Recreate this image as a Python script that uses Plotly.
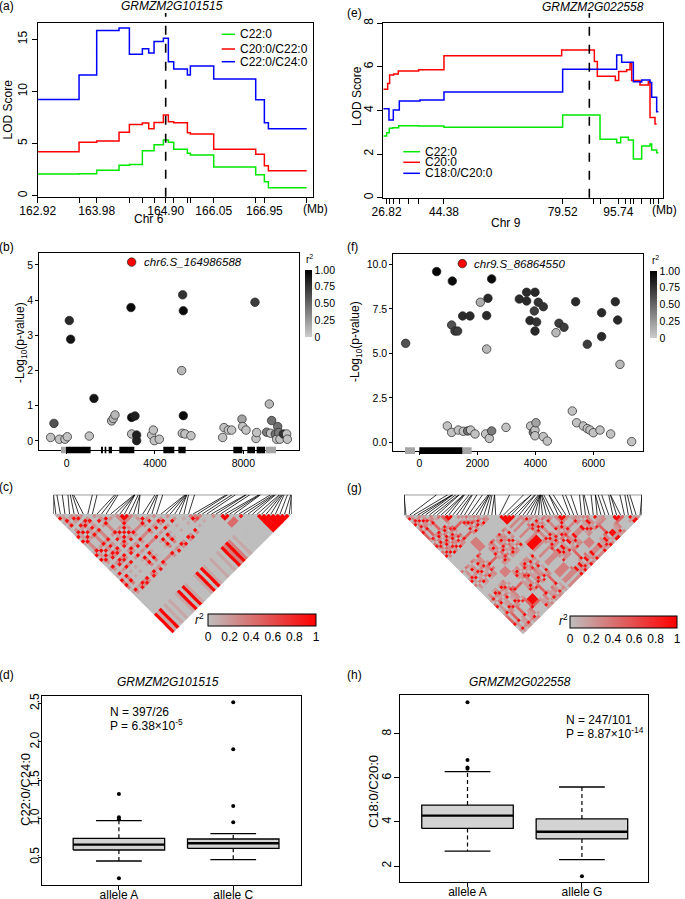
import plotly.graph_objects as go

W, H = 685, 899
FONT = "Liberation Sans, Arial, Helvetica, sans-serif"


def fx(x):
    return x / W


def fy(y):
    return 1 - y / H


# ======================= DATA =======================
# (a) Chr 6 QTL scan (marker map position, relative units 0-100)
a_pos = [0, 15.37, 21.93, 30.24, 34.08, 38.91, 41.26, 43.25, 46.72, 48.57,
         50.56, 55.64, 56.75, 65.43, 81.04, 84.26, 85.75, 100]
a_lod_c22 = [2.08, 2.11, 2.43, 2.91, 3.0, 4.32, 4.32, 4.89, 5.34, 5.12,
             4.45, 4.06, 3.9, 2.75, 2.01, 1.34, 0.77]
a_lod_c20_c22 = [4.22, 5.12, 5.24, 6.08, 6.84, 6.97, 6.43, 7.03, 7.74, 7.1,
                 7.0, 6.04, 5.92, 4.45, 3.97, 2.88, 2.4]
a_lod_c22_c24 = [9.24, 11.58, 15.86, 16.08, 13.56, 14.1, 13.7, 14.8, 15.1, 12.85,
                 12.15, 11.58, 12.44, 11.19, 9.2, 7.0, 6.43]
a_tickvals = [0, 21.93, 47.58, 65.43, 84.26]
a_ticktext = ["162.92", "163.98", "164.90", "166.05", "166.95"]
a_minor = [15.37, 34.08, 38.91, 43.25, 50.56, 55.64, 56.75, 81.04, 100]
a_gene_pos = 47.58
a_series = ["C22:0", "C20:0/C22:0", "C22:0/C24:0"]

# (e) Chr 9 QTL scan
e_pos_c22 = [0, 1.21, 2.18, 3.39, 5.58, 12.85, 22.06, 65.21, 78.79, 84.85,
             86.30, 89.09, 90.91, 93.94, 96.97, 97.58, 99.39, 100]
e_lod_c22 = [2.83, 2.98, 3.18, 3.21, 3.30, 3.29, 3.23, 3.79, 2.68, 2.52,
             2.77, 2.65, 1.77, 2.37, 2.46, 2.19, 2.06]
e_pos_c20 = [0, 1.58, 2.30, 3.76, 5.45, 12.85, 22.06, 64.85, 76.73, 77.82,
             84.36, 85.58, 88.48, 89.70, 90.30, 93.33, 96.36, 96.97, 98.79, 99.39]
e_lod_c20 = [4.97, 5.24, 5.63, 5.67, 5.81, 5.87, 6.51, 6.77, 6.24, 5.57,
             5.37, 5.78, 5.87, 6.16, 5.37, 5.17, 5.32, 3.68, 3.38]
e_pos_ratio = [0, 2.06, 3.64, 5.82, 13.33, 22.06, 65.21, 84.85, 86.67, 90.91,
               93.33, 93.94, 96.97, 97.58, 99.39, 100]
e_lod_ratio = [4.08, 3.56, 4.02, 4.43, 4.48, 4.85, 5.89, 6.54, 6.21, 5.32,
               5.31, 5.40, 5.28, 4.6, 3.94]
e_tickvals = [1.21, 22.06, 65.21, 85.45]
e_ticktext = ["26.82", "44.38", "79.52", "95.74"]
e_minor = [2.42, 3.88, 5.82, 9.09, 12.97, 76.36, 79.03, 87.88, 89.70, 90.91,
           93.94, 96.97, 98.18, 100]
e_gene_pos = 74.91
e_series = ["C22:0", "C20:0", "C18:0/C20:0"]

# (b) association around GRMZM2G101515
b_pos = [-725, -574, -332, -75, 30, 121, 181, 1026, 1238, 2038, 2113, 2189, 2913,
         2943, 2943, 3094, 3170, 3170, 3849, 3925, 3970, 4196, 5208, 5238, 5253,
         5283, 5283, 5358, 5630, 7064, 7125, 7321, 7472, 7940, 7970, 8121, 8528,
         8574, 8604, 9057, 9177, 9238, 9283, 9449, 9509, 9555, 9600, 9660, 9811,
         9962, 9992]
b_logp = [0.10, 0.50, 0.05, 0.05, 0.12, 3.42, 2.89, 0.14, 1.21, 0.57, 0.64, 0.74, 3.79,
          0.20, 0.67, 0.71, 0.17, 0.01, 0.17, 0.31, 0.01, 0.05, 2.00, 0.22, 4.15,
          3.70, 0.72, 0.20, 0.15, 0.10, 0.38, 0.31, 0.31, 0.62, 0.41, 0.31, 3.94,
          0.07, 0.24, 0.25, 1.05, 0.22, 0.58, 0.20, 0.05, 0.41, 0.24, 0.05, 0.20,
          0.20, 0.05]
b_r2 = [0.05, 0.6, 0.05, 0.05, 0.05, 0.8, 0.9, 0.05, 0.9, 0.1, 0.1, 0.1, 0.95,
        0.08, 0.95, 0.85, 0.85, 0.85, 0.05, 0.05, 0.05, 0.05, 0.1, 0.05, 0.75,
        0.95, 0.95, 0.05, 0.05, 0.05, 0.05, 0.05, 0.05, 0.2, 0.05, 0.05, 0.7,
        0.05, 0.05, 0.4, 0.1, 0.05, 0.45, 0.45, 0.05, 0.45, 0.4, 0.05, 0.75,
        0.05, 0.05]
b_lead = {"name": "chr6.S_164986588", "pos": 2943, "logp": 5.08}
b_utr = [(-257, -30), (9011, 9479)]
b_exon = [(-30, 1087), (1555, 1645), (1721, 1796), (1902, 2053), (2385, 3064),
          (4377, 4875), (5057, 5389), (7547, 7955), (8181, 8528), (8604, 8981)]

# (f) association around GRMZM2G022558
f_pos = [-471, 598, 966, 1115, 1115, 1138, 1230, 1322, 1345, 1494, 1517, 1667, 1747,
         1770, 1920, 2103, 2287, 2322, 2322, 2368, 2414, 2494, 2494, 2989, 3448,
         3701, 3701, 3816, 3839, 3931, 3966, 3989, 3989, 3989, 3989, 4023, 4046,
         4103, 4276, 4276, 4414, 4713, 4816, 4989, 5276, 5391, 5425, 5655, 5793,
         5793, 5885, 6000, 6230, 6287, 6287, 6598, 6759, 6839, 6920, 7322]
f_logp = [5.56, 9.59, 0.92, 6.59, 0.56, 9.06, 6.25, 6.25, 0.69, 7.10, 0.62, 0.64, 7.10,
          0.69, 0.47, 7.87, 0.47, 7.12, 5.24, 8.09, 0.22, 9.18, 0.64, 0.84, 8.05,
          8.43, 7.94, 6.84, 0.92, 0.56, 7.38, 8.43, 6.25, 0.69, 0.37, 1.10, 6.76,
          7.87, 7.62, 0.32, 0.07, 6.16, 6.69, 6.46, 1.76, 7.90, 1.10, 0.92, 5.51,
          0.77, 0.69, 0.54, 0.69, 7.28, 5.94, 0.47, 7.90, 6.87, 4.38, 0.04]
f_r2 = [0.6, 0.98, 0.05, 0.6, 0.05, 0.95, 0.7, 0.7, 0.05, 0.8, 0.05, 0.45, 0.8,
        0.05, 0.05, 0.15, 0.05, 0.8, 0.1, 0.8, 0.05, 0.95, 0.4, 0.05, 0.8,
        0.8, 0.8, 0.8, 0.05, 0.4, 0.7, 0.8, 0.8, 0.05, 0.05, 0.2, 0.75,
        0.75, 0.75, 0.05, 0.05, 0.1, 0.7, 0.7, 0.05, 0.8, 0.05, 0.05, 0.7,
        0.05, 0.05, 0.05, 0.05, 0.8, 0.8, 0.05, 0.8, 0.8, 0.1, 0.05]
f_lead = {"name": "chr9.S_86864550", "pos": 1483, "logp": 10.04}
f_utr = [(-494, -149), (1483, 1805)]
f_exon = [(0, 1483)]

# (c)/(g) LD structure: haplotype group of each SNP (sorted by position)
ld_c_groups = list("AEAFEFE.FEAFAEDDDEAFAEF.EF.E.AGAG.EFBBB.CC..AAAAAAAA")
ld_c_within = {"A": 1.0, "B": 1.0, "C": 0.85, "D": 1.0, "E": 0.95, "F": 0.9, "G": 0.65}
ld_c_between = {"EF": 0.25, "AG": 0.35, "BC": 0.45, "DE": 0.3, "AE": 0.12}
ld_g_groups = list("RSRTSRTSURVVVSTURSTUSRT.PPPPPUQTQSRQUTQPPPQTSQURQQTSUVVVRQQSQ")
ld_g_within = {"R": 0.95, "S": 0.9, "T": 1.0, "U": 0.8, "P": 1.0, "Q": 0.95, "V": 1.0}
ld_g_between = {"ST": 0.3, "RU": 0.4, "PQ": 0.3, "RS": 0.2, "TU": 0.25, "QS": 0.2,
                "RV": 0.5, "PV": 0.35, "QT": 0.15, "QU": 0.3}
ld_ticks = [0, 0.2, 0.4, 0.6, 0.8, 1]
ld_ticktext = ["0", "0.2", "0.4", "0.6", "0.8", "1"]

# (d)/(h) box plots
d_cats = ["allele A", "allele C"]
d_q1 = [0.595, 0.617]
d_med = [0.665, 0.682]
d_q3 = [0.747, 0.738]
d_lo = [0.452, 0.47]
d_hi = [0.977, 0.808]
d_out = [[1.324, 1.02, 0.994, 0.227], [2.515, 1.904, 1.168, 0.955]]
d_note = ["N = 397/26", "P = 6.38×10<sup>-5</sup>"]

h_cats = ["allele A", "allele G"]
h_q1 = [3.71, 3.23]
h_med = [4.29, 3.56]
h_q3 = [4.77, 4.14]
h_lo = [2.68, 2.29]
h_hi = [6.29, 5.59]
h_out = [[9.44, 6.82, 6.48, 6.42], [1.53]]
h_note = ["N = 247/101", "P = 8.87×10<sup>-14</sup>"]

# ======================= FIGURE =======================
fig = go.Figure()
shapes = []
annotations = []


def ann(x, y, text, size=12, angle=0, xanchor="center", yanchor="middle", **kw):
    d = dict(x=fx(x), y=fy(y), xref="paper", yref="paper", text=text, showarrow=False,
             font=dict(family=FONT, size=size, color="black"), textangle=angle,
             xanchor=xanchor, yanchor=yanchor)
    d.update(kw)
    annotations.append(d)


def step(x, vals, color, xa, ya):
    fig.add_trace(go.Scatter(x=x, y=list(vals) + [vals[-1]], mode="lines",
                             line=dict(color=color, width=1.5, shape="hv"),
                             xaxis=xa, yaxis=ya, showlegend=False, hoverinfo="skip"))


GREEN, RED, BLUE = "#00e800", "#ff0000", "#0000ff"

# ---- (a)
step(a_pos, a_lod_c22, GREEN, "x", "y")
step(a_pos, a_lod_c20_c22, RED, "x", "y")
step(a_pos, a_lod_c22_c24, BLUE, "x", "y")
shapes.append(dict(type="line", xref="x", yref="paper", x0=a_gene_pos, x1=a_gene_pos,
                   y0=fy(196.7), y1=fy(13), line=dict(color="black", width=1.6, dash="dash")))
for k, (nm, col) in enumerate(zip(a_series, [GREEN, RED, BLUE])):
    yy = [34.3, 49, 61.7][k]
    shapes.append(dict(type="line", xref="paper", yref="paper", x0=fx(221.7), x1=fx(235),
                       y0=fy(yy), y1=fy(yy), line=dict(color=col, width=1.5)))
    ann(238.3, yy, nm, xanchor="left")
ann(6, 6, "(a)")
ann(172, 6, "<i>GRMZM2G101515</i>")
ann(7.5, 110, "LOD Score", angle=-90)
ann(149, 219, "Chr 6")
ann(315, 209, "(Mb)")

# ---- (e)
step(e_pos_c22, e_lod_c22, GREEN, "x2", "y2")
step(e_pos_c20, e_lod_c20, RED, "x2", "y2")
step(e_pos_ratio, e_lod_ratio, BLUE, "x2", "y2")
shapes.append(dict(type="line", xref="x2", yref="paper", x0=e_gene_pos, x1=e_gene_pos,
                   y0=fy(197.7), y1=fy(13), line=dict(color="black", width=1.6, dash="dash")))
for k, (nm, col) in enumerate(zip(e_series, [GREEN, RED, BLUE])):
    yy = [151.7, 162.3, 173.3][k]
    shapes.append(dict(type="line", xref="paper", yref="paper", x0=fx(403.3), x1=fx(420),
                       y0=fy(yy), y1=fy(yy), line=dict(color=col, width=1.5)))
    ann(423.3, yy, nm, xanchor="left")
ann(354, 13, "(e)")
ann(593, 7, "<i>GRMZM2G022558</i>")
ann(357, 96, "LOD Score", angle=-90)
ann(506, 223, "Chr 9")
ann(664, 210, "(Mb)")


# ---- (b) / (f) association plots
def assoc(pos, logp, r2, lead, utr, exon, xa, ya, cax, ytop, ybot):
    fig.add_trace(go.Scatter(x=pos, y=logp, mode="markers", xaxis=xa, yaxis=ya,
                             marker=dict(color=r2, coloraxis=cax, size=8.5,
                                         line=dict(color="#222222", width=0.7)),
                             showlegend=False, hoverinfo="skip"))
    fig.add_trace(go.Scatter(x=[lead["pos"]], y=[lead["logp"]], mode="markers",
                             xaxis=xa, yaxis=ya,
                             marker=dict(color="#ff0000", size=8.5,
                                         line=dict(color="#222222", width=0.7)),
                             showlegend=False, hoverinfo="skip"))
    annotations.append(dict(x=lead["pos"], y=lead["logp"], xref=xa, yref=ya,
                            text="<i>" + lead["name"] + "</i>", showarrow=False,
                            xanchor="left", yanchor="middle", xshift=10,
                            font=dict(family=FONT, size=11.5, color="black")))
    for (s, e) in utr:
        shapes.append(dict(type="rect", xref=xa, yref="paper", x0=s, x1=e,
                           y0=fy(ybot), y1=fy(ytop), fillcolor="#a6a6a6",
                           line=dict(width=0), layer="above"))
    for (s, e) in exon:
        shapes.append(dict(type="rect", xref=xa, yref="paper", x0=s, x1=e,
                           y0=fy(ybot), y1=fy(ytop), fillcolor="#000000",
                           line=dict(width=0), layer="above"))


assoc(b_pos, b_logp, b_r2, b_lead, b_utr, b_exon, "x3", "y3", "coloraxis", 446.7, 453.3)
assoc(f_pos, f_logp, f_r2, f_lead, f_utr, f_exon, "x4", "y4", "coloraxis2", 447.3, 454)
ann(6, 247, "(b)")
ann(353, 247, "(f)")
ann(21, 343, "-Log<sub>10</sub>(p-value)", angle=-90)
ann(356, 342, "-Log<sub>10</sub>(p-value)", angle=-90)
ann(309, 259, "r<sup>2</sup>", size=10)
ann(655, 260, "r<sup>2</sup>", size=10)


# ---- (c) / (g) LD heatmaps
def ld_panel(groups, within, between, snp_pos, xa, ya, cax, unit_px, box_h):
    n = len(groups)
    fig.add_trace(go.Scatter(x=[0, n, n / 2, 0], y=[0, 0, -n / 2, 0], mode="lines",
                             fill="toself", fillcolor="#bebebe", line=dict(width=0),
                             xaxis=xa, yaxis=ya, showlegend=False, hoverinfo="skip"))
    cx, cy, cv = [], [], []
    for i in range(n):
        for j in range(i + 1, n):
            gi, gj = groups[i], groups[j]
            if gi == "." or gj == ".":
                v = 0.0
            elif gi == gj:
                v = within[gi]
            else:
                v = between.get(gi + gj, between.get(gj + gi, 0.0))
            cx.append((i + j) / 2 + 0.5)
            cy.append(-(j - i) / 2)
            cv.append(v)
    fig.add_trace(go.Scatter(x=cx, y=cy, mode="markers", xaxis=xa, yaxis=ya,
                             marker=dict(symbol="diamond", size=(unit_px + 0.5) / 1.3,
                                         color=cv, coloraxis=cax, line=dict(width=0)),
                             showlegend=False, hoverinfo="skip"))
    sp = sorted(snp_pos)
    pmin, pmax = sp[0], sp[-1]
    lx, ly = [], []
    for k, p in enumerate(sp):
        lx += [(p - pmin) / (pmax - pmin) * n, k + 0.5, None]
        ly += [box_h, 0, None]
    fig.add_trace(go.Scatter(x=lx, y=ly, mode="lines", line=dict(color="black", width=0.8),
                             xaxis=xa, yaxis=ya, showlegend=False, hoverinfo="skip"))
    shapes.append(dict(type="path", xref=xa, yref=ya,
                       path=f"M 0,0 L 0,{box_h} L {n},{box_h} L {n},0",
                       line=dict(color="black", width=1)))


NC = len(ld_c_groups)
NG = len(ld_g_groups)
c_left, c_right, c_base, c_top, c_bot = 53.5, 291.5, 514.0, 494.7, 640.0
g_left, g_right, g_base, g_top, g_bot = 404.0, 642.0, 515.0, 494.7, 641.0
uc = (c_right - c_left) / NC
ug = (g_right - g_left) / NG
ld_panel(ld_c_groups, ld_c_within, ld_c_between, b_pos + [b_lead["pos"]], "x5", "y5",
         "coloraxis3", uc, (c_base - c_top) / uc)
ld_panel(ld_g_groups, ld_g_within, ld_g_between, f_pos + [f_lead["pos"]], "x6", "y6",
         "coloraxis4", ug, (g_base - g_top) / ug)
ann(6, 487, "(c)")
ann(354, 488, "(g)")
ann(200, 619, "<i>r</i><sup>2</sup>", size=12)
ann(563, 620, "<i>r</i><sup>2</sup>", size=12)


# ---- (d) / (h) box plots
def boxes(q1, med, q3, lo, hi, outs, xa, ya):
    for k in range(len(q1)):
        c = k + 1
        fig.add_trace(go.Scatter(x=[c - 0.4, c + 0.4, c + 0.4, c - 0.4, c - 0.4],
                                 y=[q1[k], q1[k], q3[k], q3[k], q1[k]], mode="lines",
                                 fill="toself", fillcolor="#d3d3d3",
                                 line=dict(color="black", width=1.3),
                                 xaxis=xa, yaxis=ya, showlegend=False, hoverinfo="skip"))
        fig.add_trace(go.Scatter(x=[c - 0.4, c + 0.4], y=[med[k], med[k]], mode="lines",
                                 line=dict(color="black", width=2.4),
                                 xaxis=xa, yaxis=ya, showlegend=False, hoverinfo="skip"))
        fig.add_trace(go.Scatter(x=[c, c, None, c, c], y=[q3[k], hi[k], None, q1[k], lo[k]],
                                 mode="lines", line=dict(color="black", width=1.2, dash="4px,3px"),
                                 xaxis=xa, yaxis=ya, showlegend=False, hoverinfo="skip"))
        fig.add_trace(go.Scatter(x=[c - 0.2, c + 0.2, None, c - 0.2, c + 0.2],
                                 y=[hi[k], hi[k], None, lo[k], lo[k]], mode="lines",
                                 line=dict(color="black", width=1.3),
                                 xaxis=xa, yaxis=ya, showlegend=False, hoverinfo="skip"))
        fig.add_trace(go.Scatter(x=[c] * len(outs[k]), y=outs[k], mode="markers",
                                 marker=dict(color="black", size=4),
                                 xaxis=xa, yaxis=ya, showlegend=False, hoverinfo="skip"))


boxes(d_q1, d_med, d_q3, d_lo, d_hi, d_out, "x7", "y7")
boxes(h_q1, h_med, h_q3, h_lo, h_hi, h_out, "x8", "y8")
ann(6, 675, "(d)")
ann(354, 675, "(h)")
ann(168, 682, "<i>GRMZM2G101515</i>")
ann(520, 682, "<i>GRMZM2G022558</i>")
ann(25, 789, "C22:0/C24:0", size=13, angle=-90)
ann(373, 792, "C18:0/C20:0", size=13, angle=-90)
ann(108, 712, d_note[0], xanchor="left")
ann(108, 725, d_note[1], xanchor="left")
ann(564, 720, h_note[0], xanchor="left")
ann(564, 733, h_note[1], xanchor="left")


# ======================= AXES =======================
def axis(dom, rng, anchor, size=12, ticklen=5, minorvals=None, **kw):
    d = dict(domain=dom, range=rng, anchor=anchor, showline=True, mirror=True,
             linecolor="black", linewidth=1, ticks="outside", ticklen=ticklen, tickwidth=1,
             tickcolor="black", showgrid=False, zeroline=False, fixedrange=True,
             automargin=False, tickmode="array",
             tickfont=dict(family=FONT, size=size, color="black"))
    if minorvals is not None:
        d["minor"] = dict(tickmode="array", tickvals=minorvals, ticks="outside",
                          ticklen=ticklen, tickwidth=1, tickcolor="black", showgrid=False)
    d.update(kw)
    return d


def hidden(dom, rng, anchor):
    return dict(domain=dom, range=rng, anchor=anchor, visible=False, fixedrange=True,
                showgrid=False, zeroline=False, automargin=False)


gray_scale = [[0, "#cccccc"], [1, "#000000"]]
ld_scale = [[0, "#bebebe"], [1, "#ff0000"]]


def vbar(x, ytop):
    return dict(x=fx(x), xanchor="left", y=fy(ytop), yanchor="top", len=67,
                lenmode="pixels", thickness=7, thicknessmode="pixels", outlinewidth=0,
                tickvals=[0, 0.25, 0.5, 0.75, 1], ticktext=["0", "0.25", "0.50", "0.75", "1.00"],
                ticks="", xpad=0, ypad=0,
                tickfont=dict(family=FONT, size=10.5, color="black"))


def hbar(x, ytop, ln):
    return dict(orientation="h", x=fx(x), xanchor="left", y=fy(ytop), yanchor="top",
                len=ln, lenmode="pixels", thickness=12, thicknessmode="pixels",
                outlinewidth=1, outlinecolor="black", tickvals=ld_ticks, ticktext=ld_ticktext,
                ticks="", xpad=0, ypad=0,
                tickfont=dict(family=FONT, size=12, color="black"))


fig.update_layout(
    template="none",
    width=W, height=H, margin=dict(l=0, r=0, t=0, b=0, pad=0), autosize=False,
    paper_bgcolor="white", plot_bgcolor="white", showlegend=False,
    font=dict(family=FONT, size=12, color="black"),
    xaxis=axis([fx(37.7), fx(313.3)], [0, 102.45], "y", tickvals=a_tickvals,
               ticktext=a_ticktext, minorvals=a_minor, ticklabelstandoff=-2),
    yaxis=axis([fy(196.7), fy(22.7)], [-0.1, 16.6], "x", tickvals=[0, 5, 10, 15], tickangle=-90),
    xaxis2=axis([fx(383.3), fx(663.3)], [0, 101.8], "y2", tickvals=e_tickvals,
                ticktext=e_ticktext, minorvals=e_minor, ticklabelstandoff=-2),
    yaxis2=axis([fy(197.7), fy(23.2)], [0, 8], "x2", tickvals=[0, 2, 4, 6, 8], tickangle=-90),
    xaxis3=axis([fx(39.3), fx(299)], [-1238, 10521], "y3", size=10.5, ticklen=3,
                tickvals=[0, 4000, 8000]),
    yaxis3=axis([fy(450), fy(253.3)], [-0.256, 5.33], "x3", size=10.5, ticklen=3,
                tickvals=[0, 1, 2, 3, 4, 5]),
    xaxis4=axis([fx(393.3), fx(643.3)], [-897, 7724], "y4", size=10.5, ticklen=3,
                tickvals=[0, 2000, 4000, 6000]),
    yaxis4=axis([fy(450.7), fy(254)], [-0.47, 10.58], "x4", size=10.5, ticklen=3,
                tickvals=[0, 2.5, 5, 7.5, 10], ticktext=["0.0", "2.5", "5.0", "7.5", "10.0"]),
    xaxis5=hidden([fx(c_left), fx(c_right)], [0, NC], "y5"),
    yaxis5=hidden([fy(c_bot), fy(c_top)], [-(c_bot - c_base) / uc, (c_base - c_top) / uc], "x5"),
    xaxis6=hidden([fx(g_left), fx(g_right)], [0, NG], "y6"),
    yaxis6=hidden([fy(g_bot), fy(g_top)], [-(g_bot - g_base) / ug, (g_base - g_top) / ug], "x6"),
    xaxis7=axis([fx(42.3), fx(300.7)], [0.33, 2.59], "y7", ticklen=4, tickvals=[1, 2],
                ticktext=d_cats, ticklabelstandoff=-6),
    yaxis7=axis([fy(885.3), fy(695.7)], [0.136, 2.60], "x7", ticklen=3,
                tickvals=[0.5, 1.0, 1.5, 2.0, 2.5],
                ticktext=["0.5", "1.0", "1.5", "2.0", "2.5"], tickangle=-90,
                ticklabelstandoff=-5),
    xaxis8=axis([fx(400), fx(648.3)], [0.41, 2.58], "y8", ticklen=4, tickvals=[1, 2],
                ticktext=h_cats, ticklabelstandoff=-6),
    yaxis8=axis([fy(882.3), fy(695)], [1.26, 9.77], "x8", tickvals=[2, 4, 6, 8], tickangle=-90,
                ticklabelstandoff=-2),
    coloraxis=dict(colorscale=gray_scale, cmin=0, cmax=1, colorbar=vbar(305, 270)),
    coloraxis2=dict(colorscale=gray_scale, cmin=0, cmax=1, colorbar=vbar(650, 271)),
    coloraxis3=dict(colorscale=ld_scale, cmin=0, cmax=1, colorbar=hbar(208, 614, 108)),
    coloraxis4=dict(colorscale=ld_scale, cmin=0, cmax=1, colorbar=hbar(570, 616, 107)),
    shapes=shapes,
    annotations=annotations,
)

fig.write_html("out.html", config={"displayModeBar": False, "staticPlot": True},
               post_script="document.body.style.margin='0px';document.body.style.padding='0px';")
